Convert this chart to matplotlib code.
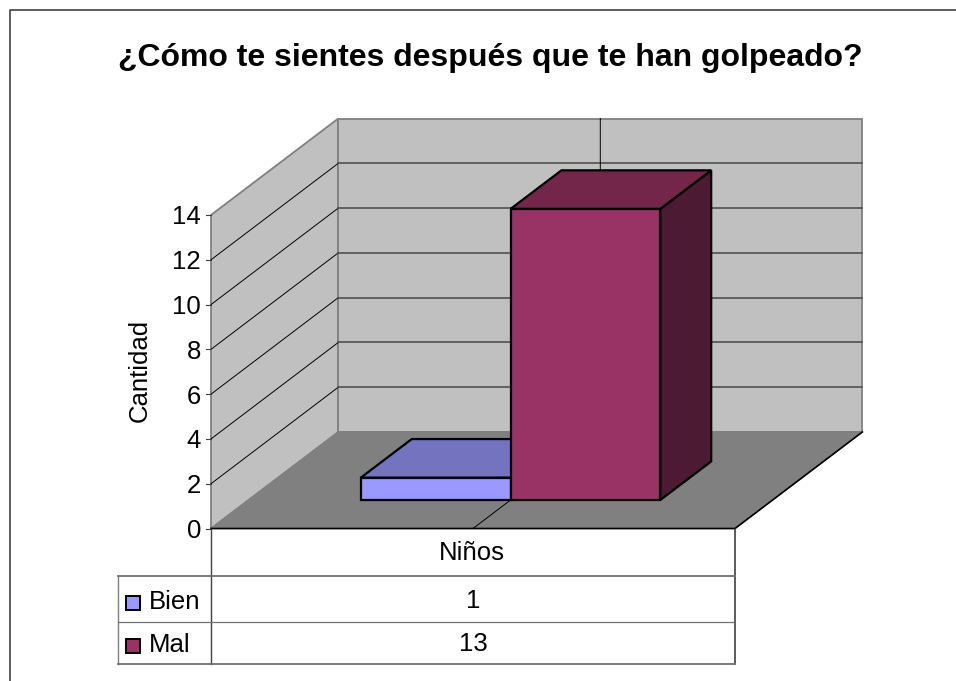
import numpy as np
import matplotlib
matplotlib.use('Agg')
import matplotlib.pyplot as plt
from matplotlib.patches import Polygon, Rectangle

plt.rcParams['font.family'] = ['Liberation Sans', 'DejaVu Sans']

title = '¿Cómo te sientes después que te han golpeado?'
y_label = 'Cantidad'
category = 'Niños'
series_names = ['Bien', 'Mal']
series_values = [1, 13]
y_ticks = [0, 2, 4, 6, 8, 10, 12, 14]

series_colors = ['#9999ff', '#993366']
top_colors = ['#7373bf', '#732649']
side_colors = ['#4d4d80', '#4d1a33']

# pixel frame of the fake 3d box
X0, X1 = 211, 735
Y0, Y14 = 528.5, 215
DX, DY = 127.3, -96.5
Y_MAX = 14
GAP_DEPTH = 0.295
BAR_DEPTH = 0.40
BAR_W = 1 / 3.5


def proj(u, v, d):
    """category pos u (0-1), value v, depth d (0-1) to pixels"""
    x = X0 + (X1 - X0) * u + DX * d
    y = Y0 + (Y14 - Y0) * v / Y_MAX + DY * d
    return (x, y)


fig = plt.figure(figsize=(9.56, 6.81), dpi=100)
ax = fig.add_axes([0, 0, 1, 1])
ax.set_xlim(0, 956)
ax.set_ylim(681, 0)
ax.axis('off')


def poly(pts, fc, ec='black', lw=1.0, z=1):
    ax.add_patch(Polygon(pts, closed=True, facecolor=fc, edgecolor=ec, linewidth=lw, zorder=z, joinstyle='miter'))


# outer chart frame, cut off by the image on the right and bottom
ax.plot([10.5, 10.5, 956], [681, 10, 10], color='#333333', lw=1.1, zorder=1)

# walls and floor
poly([proj(0, 0, 0), proj(0, Y_MAX, 0), proj(0, Y_MAX, 1), proj(0, 0, 1)], '#c0c0c0', '#808080', 1.3)
poly([proj(0, 0, 1), proj(0, Y_MAX, 1), proj(1, Y_MAX, 1), proj(1, 0, 1)], '#c0c0c0', '#808080', 1.3)
poly([proj(0, 0, 0), proj(1, 0, 0), proj(1, 0, 1), proj(0, 0, 1)], '#808080', '#808080', 1.0)

# gridlines
for v in y_ticks[1:-1]:
    a, b, c = proj(0, v, 0), proj(0, v, 1), proj(1, v, 1)
    ax.plot([a[0], b[0]], [a[1], b[1]], color='black', lw=0.7, zorder=2)
    ax.plot([b[0], c[0]], [b[1], c[1]], color='#505050', lw=1.2, zorder=2)

# category divider on back wall and floor
a, b, c = proj(0.5, 0, 0), proj(0.5, 0, 1), proj(0.5, Y_MAX, 1)
ax.plot([a[0], b[0], c[0]], [a[1], b[1], c[1]], color='black', lw=0.7, zorder=2)

# front and right edges of the floor
e = proj(1, 0, 1)
ax.plot([X0, X1, e[0]], [Y0, Y0, e[1]], color='black', lw=1.2, zorder=3)

# bars
for i, (val, fc, tc, sc) in enumerate(zip(series_values, series_colors, top_colors, side_colors)):
    u0 = 0.75 * BAR_W + i * BAR_W
    u1 = u0 + BAR_W
    d0 = GAP_DEPTH
    d1 = GAP_DEPTH + BAR_DEPTH
    z = 4 + i
    poly([proj(u1, 0, d0), proj(u1, val, d0), proj(u1, val, d1), proj(u1, 0, d1)], sc, lw=1.6, z=z)
    poly([proj(u0, val, d0), proj(u1, val, d0), proj(u1, val, d1), proj(u0, val, d1)], tc, lw=1.6, z=z)
    poly([proj(u0, 0, d0), proj(u1, 0, d0), proj(u1, val, d0), proj(u0, val, d0)], fc, lw=1.6, z=z)

# y axis
for v in y_ticks:
    p = proj(0, v, 0)
    ax.plot([p[0] - 5, p[0]], [p[1], p[1]], color='#404040', lw=0.8, zorder=3)
    ax.text(p[0] - 10, p[1], str(v), ha='right', va='center_baseline', fontsize=18.5, color='black')
ax.text(140, 370, y_label, rotation=90, ha='center', va='center', fontsize=18.5, color='black')

# data table
T_LEFT, T_HEAD, T_ROW, T_BOT = 118, 575.5, 622, 664
ax.plot([X0, X0], [Y0, T_BOT], color='#404040', lw=1.0, zorder=3)
ax.plot([X1, X1], [Y0, T_BOT], color='#303030', lw=1.1, zorder=3)
ax.plot([T_LEFT, T_LEFT], [T_HEAD, T_BOT], color='#808080', lw=1.0, zorder=3)
ax.plot([T_LEFT, X1], [T_HEAD, T_HEAD], color='#707070', lw=1.3, zorder=3)
ax.plot([T_LEFT, X1 - 2], [T_ROW, T_ROW], color='#707070', lw=0.9, zorder=3)
ax.plot([T_LEFT, X1], [T_BOT, T_BOT], color='#707070', lw=1.3, zorder=3)

cx = (X0 + X1) / 2
ax.text(cx - 1, 553, category, ha='center', va='center', fontsize=18.5, color='black')
for name, val, fc, ymid in zip(series_names, series_values, series_colors, [602, 645]):
    ax.add_patch(Rectangle((126.5, ymid - 6.5), 14, 14, facecolor=fc, edgecolor='black', lw=1.4, zorder=4))
    ax.text(149, ymid, name, ha='left', va='center', fontsize=18.5, color='black')
    ax.text(cx, ymid - 1, str(val), ha='center', va='center', fontsize=18.5, color='black')

ax.text(490, 58, title, ha='center', va='center', fontsize=23, fontweight='bold', color='black')

fig.savefig('out.png', dpi=100)
